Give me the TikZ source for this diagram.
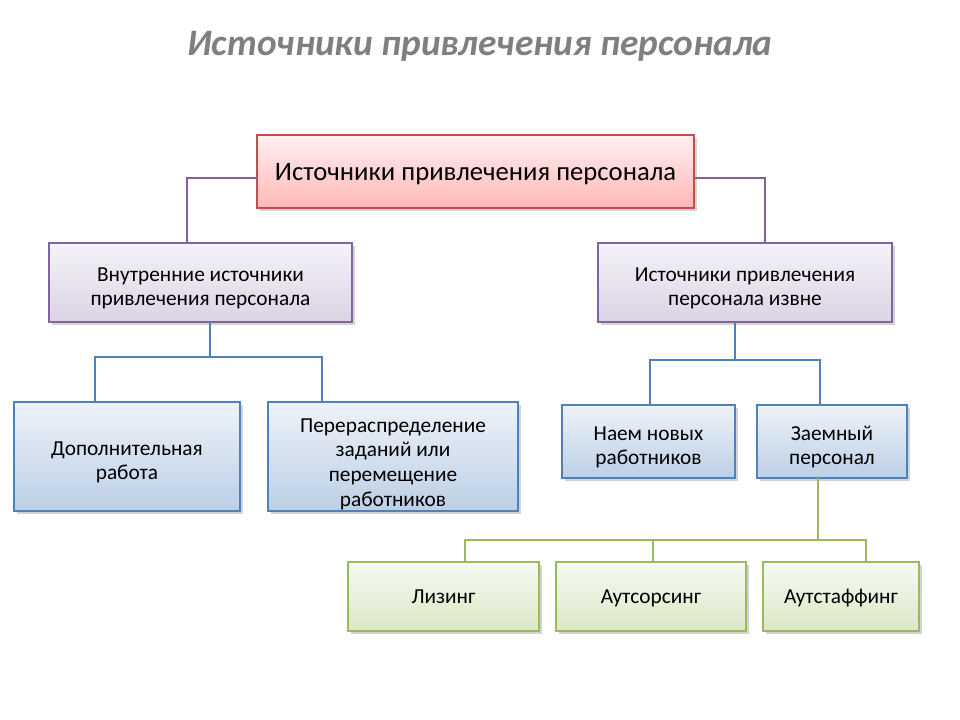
\documentclass[tikz,border=0pt]{standalone}
\usepackage{fontspec}
\setmainfont{Carlito}
\usepackage{tikz}
\usetikzlibrary{positioning,calc,shadows}

\definecolor{titlegray}{HTML}{7F7F7F}
\definecolor{redline}{HTML}{C0504D}
\definecolor{purpline}{HTML}{8064A2}
\definecolor{blueline}{HTML}{4F81BD}
\definecolor{greenline}{HTML}{9BBB59}

% raises the first line of a multi-line label
\newcommand{\firstln}[1][1.2em]{\rule{0pt}{#1}}

\begin{document}
\begin{tikzpicture}[
  x=0.75pt, y=-0.75pt,
  font=\fontsize{16}{18.5}\selectfont,
  box/.style={draw, line width=1.2pt, align=center, inner sep=0pt, outer sep=0pt,
    drop shadow={shadow xshift=2pt, shadow yshift=-2pt, opacity=0.35}},
  single/.style={text depth=0.25em, execute at begin node={\rule{0pt}{0.8em}}},
  redbox/.style={box, draw=redline, top color=red!6, bottom color=red!28!white},
  purbox/.style={box, draw=purpline, top color=purpline!8, bottom color=purpline!28},
  bluebox/.style={box, draw=blueline, top color=blueline!10, bottom color=blueline!38},
  greenbox/.style={box, single, draw=greenline, top color=greenline!8, bottom color=greenline!35},
  pline/.style={draw=purpline, line width=1.8pt},
  bline/.style={draw=blueline, line width=1.8pt},
  gline/.style={draw=greenline, line width=1.8pt}
]
\useasboundingbox (0,0) rectangle (960,720);

\node[font=\fontsize{28}{34}\selectfont\bfseries\itshape, text=titlegray] (title) at (480,46) {Источники привлечения персонала};

\node[redbox, single, minimum width=327.75pt, minimum height=54.75pt, font=\fontsize{20}{24}\selectfont] (top) at (475.5,171.5) {Источники привлечения персонала};

\node[purbox, minimum width=227.25pt, minimum height=59.25pt] (inner) at (200.5,282.5) {\firstln Внутренние источники\\привлечения персонала};
\node[purbox, minimum width=220.5pt, minimum height=59.25pt] (outer) at (745,282.5) {\firstln Источники привлечения\\персонала извне};

\node[bluebox, minimum width=169.5pt, minimum height=81.75pt] (dop) at (127,456.5) {\firstln Дополнительная\\работа};
\node[bluebox, minimum width=187.5pt, minimum height=81.75pt] (pere) at (393,456.5) {\firstln[1.35em]Перераспределение\\заданий или\\перемещение\\работников};
\node[bluebox, minimum width=129.75pt, minimum height=54.75pt] (naem) at (648.5,441.5) {\firstln Наем новых\\работников};
\node[bluebox, minimum width=112.5pt, minimum height=54.75pt] (zaem) at (832,441.5) {\firstln Заемный\\персонал};

\node[greenbox, minimum width=143.25pt, minimum height=51.75pt] (lizing) at (443.5,596.5) {Лизинг};
\node[greenbox, minimum width=142.5pt, minimum height=51.75pt] (outsrc) at (651,596.5) {Аутсорсинг};
\node[greenbox, minimum width=117pt, minimum height=51.75pt] (outstf) at (841,596.5) {Аутстаффинг};

% top level
\draw[pline] ($(top.west)+(0,6.5)$) -| ($(inner.north)+(-13.5,0)$);
\draw[pline] ($(top.east)+(0,6.5)$) -| ($(outer.north)+(20,0)$);

% internal sources
\draw[bline] ($(inner.south)+(9.5,0)$) -- ++(0,35) coordinate (lbus);
\draw[bline] ($(dop.north)+(-32,0)$) |- (lbus) -| ($(pere.north)+(-71,0)$);

% external sources
\draw[bline] ($(outer.south)+(-10,0)$) -- ++(0,38) coordinate (rbus);
\draw[bline] ($(naem.north)+(1.5,0)$) |- (rbus) -| ($(zaem.north)+(-12,0)$);

% borrowed staff
\draw[gline] ($(zaem.south)+(-14,0)$) -- ++(0,62) coordinate (gbus);
\draw[gline] ($(lizing.north)+(21.5,0)$) |- (gbus) -| ($(outstf.north)+(25,0)$);
\draw[gline] ($(outsrc.north)+(2,0)$) -- ++(0,-22);
\end{tikzpicture}
\end{document}
